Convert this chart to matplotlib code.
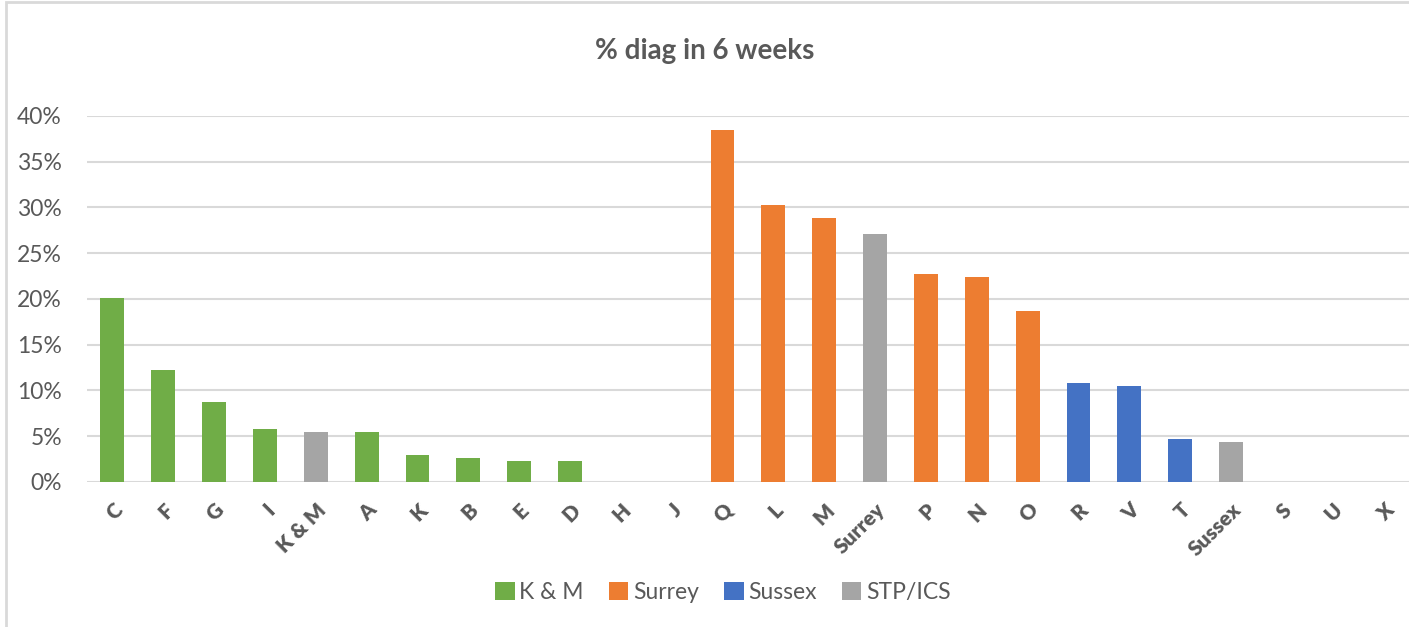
import matplotlib
matplotlib.use("Agg")
import matplotlib.pyplot as plt
from matplotlib.patches import Patch, Rectangle
from matplotlib.ticker import PercentFormatter

# data
cats = ['C', 'F', 'G', 'I', 'K & M', 'A', 'K', 'B', 'E', 'D', 'H', 'J',
        'Q', 'L', 'M', 'Surrey', 'P', 'N', 'O', 'R', 'V', 'T', 'Sussex', 'S', 'U', 'X']
vals = [0.201, 0.122, 0.087, 0.058, 0.055, 0.055, 0.029, 0.026, 0.023, 0.023, 0.0, 0.0,
        0.385, 0.303, 0.289, 0.271, 0.227, 0.224, 0.187, 0.108, 0.105, 0.047, 0.044, 0.0, 0.0, 0.0]
groups = ['K & M'] * 4 + ['STP/ICS'] + ['K & M'] * 7 + \
         ['Surrey'] * 3 + ['STP/ICS'] + ['Surrey'] * 3 + \
         ['Sussex'] * 3 + ['STP/ICS'] + ['Sussex'] * 3
legend_order = ['K & M', 'Surrey', 'Sussex', 'STP/ICS']
colors = {'K & M': '#70AD47', 'Surrey': '#ED7D31', 'Sussex': '#4472C4', 'STP/ICS': '#A5A5A5'}

plt.rcParams['font.family'] = ['Lato', 'DejaVu Sans']
txt = '#595959'

fig = plt.figure(figsize=(14.09, 6.27), dpi=100)
ax = fig.add_axes([0.0617, 0.2313, 0.9383, 0.5837])

x = range(len(cats))
ax.bar(x, vals, width=0.47, color=[colors[g] for g in groups], zorder=3)

ax.set_xlim(-0.5, len(cats) - 0.5)
ax.set_ylim(0, 0.40)
ax.set_yticks([i * 0.05 for i in range(9)])
ax.yaxis.set_major_formatter(PercentFormatter(1.0, decimals=0))
ax.grid(axis='y', color='#D9D9D9', linewidth=1.5, zorder=0)
for s in ax.spines.values():
    s.set_visible(False)
ax.tick_params(axis='both', length=0, colors=txt)
ax.tick_params(axis='y', labelsize=16.5, pad=18)
ax.set_xticks(list(x))
ax.set_xticklabels(cats, rotation=45, ha='right', rotation_mode='anchor',
                   fontsize=15, fontweight='heavy', color=txt)
ax.tick_params(axis='x', pad=13)

fig.suptitle('% diag in 6 weeks', x=0.5, y=0.94, fontsize=20, fontweight='bold', color=txt)

handles = [Patch(facecolor=colors[g], label=g) for g in legend_order]
fig.legend(handles=handles, loc='center', bbox_to_anchor=(0.513, 0.055), ncol=4,
           frameon=False, fontsize=16.5, handlelength=0.85, handleheight=0.85,
           handletextpad=0.2, columnspacing=1.1, labelcolor=txt)

# chart frame
fig.patches.append(Rectangle((0.004, -0.01), 1.02, 1.007, transform=fig.transFigure,
                             fill=False, edgecolor='#D9D9D9', linewidth=2))

fig.savefig('out.png', dpi=100)
